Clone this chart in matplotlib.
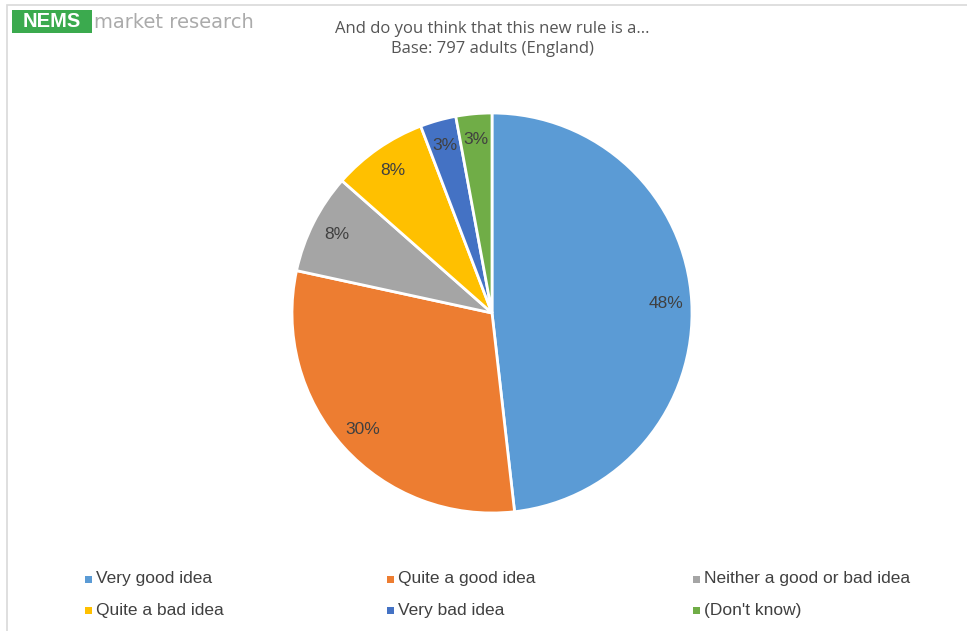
import matplotlib
matplotlib.use('Agg')
import matplotlib.pyplot as plt
from matplotlib.patches import Rectangle

plt.rcParams['font.family'] = ['Liberation Sans Narrow', 'Liberation Sans', 'DejaVu Sans']

# data (shares in %, clockwise from 12 o'clock)
categories = ['Very good idea', 'Quite a good idea', 'Neither a good or bad idea',
              'Quite a bad idea', 'Very bad idea', "(Don't know)"]
shares = [48.2, 30.2, 8.1, 7.7, 2.9, 2.9]
colors = ['#5B9BD5', '#ED7D31', '#A5A5A5', '#FFC000', '#4472C4', '#70AD47']

TITLE = 'And do you think that this new rule is a...\nBase: 797 adults (England)'

W, H = 967, 631
fig = plt.figure(figsize=(W / 100, H / 100), dpi=100)

# chart frame (only top and left edges fall inside the picture)
fig.add_artist(Rectangle((7 / W, -0.05), 1.0, 1.05 - 5 / H, transform=fig.transFigure,
                         fill=False, edgecolor='#D9D9D9', linewidth=1.2))

# logo
fig.add_artist(Rectangle((12 / W, 1 - 33 / H), 80 / W, 23 / H, transform=fig.transFigure,
                         facecolor='#3BAA4E', edgecolor='none'))
fig.text(52 / W, 1 - 21.5 / H, 'NEMS', color='white', fontsize=14.5, fontweight='bold',
         ha='center', va='center', family=['Liberation Sans', 'DejaVu Sans'])
fig.text(94 / W, 1 - 22.5 / H, 'market research', color='#ABABAB', fontsize=14,
         ha='left', va='center', family=['DejaVu Sans'])

fig.text(492 / W, 1 - 39 / H, TITLE, ha='center', va='center', fontsize=12,
         color='#555555', linespacing=1.4, family=['Open Sans', 'Liberation Sans', 'DejaVu Sans'])

# pie
cx, cy, r = 492, 313, 200
ax = fig.add_axes([(cx - r) / W, 1 - (cy + r) / H, 2 * r / W, 2 * r / H])
wedges, texts, autotexts = ax.pie(shares, colors=colors, startangle=90, counterclock=False,
                                  autopct='%.0f%%', pctdistance=0.87,
                                  wedgeprops=dict(edgecolor='white', linewidth=2),
                                  textprops=dict(color='#404040', fontsize=12.5))
ax.set_xlim(-1, 1)
ax.set_ylim(-1, 1)
ax.set_aspect('equal')
ax.axis('off')

# legend
col_x = [85, 387, 693]
row_y = [579, 610]
for i, (lab, col) in enumerate(zip(categories, colors)):
    x = col_x[i % 3]
    y = row_y[i // 3]
    fig.add_artist(Rectangle((x / W, 1 - (y + 3.5) / H), 6.5 / W, 7 / H,
                             transform=fig.transFigure, facecolor=col, edgecolor='none'))
    fig.text((x + 11) / W, 1 - y / H, lab, ha='left', va='center', fontsize=12.5, color='#404040')

fig.savefig('out.png', dpi=100)
